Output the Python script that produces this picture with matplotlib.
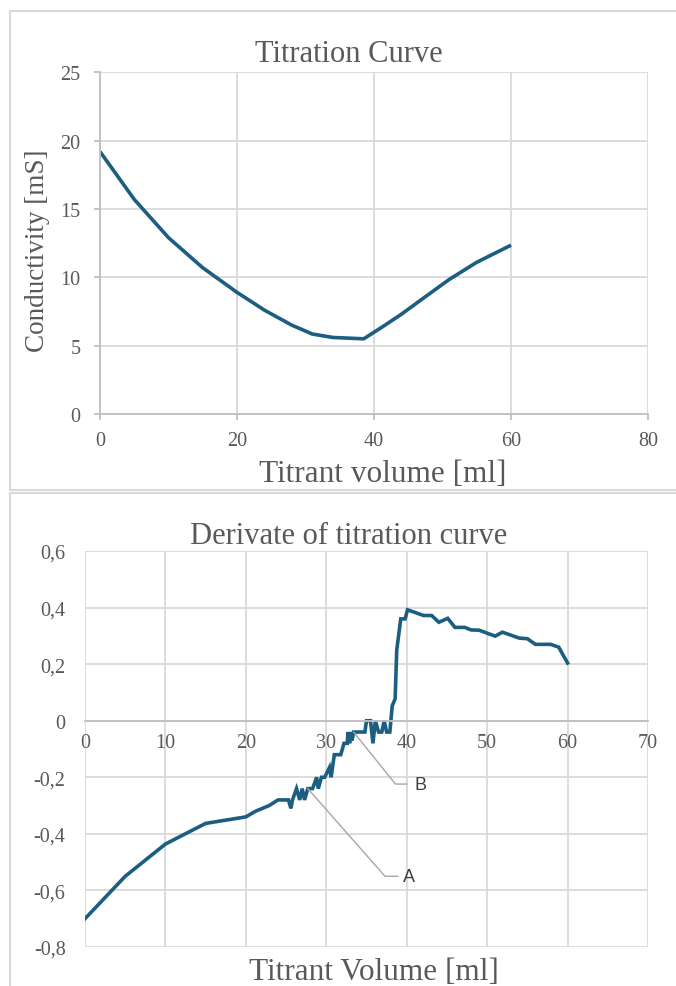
import matplotlib
matplotlib.use("Agg")
import matplotlib.pyplot as plt
from matplotlib.lines import Line2D

# --- data ---
vol_top = [0, 5, 10, 15, 20, 24, 28, 31, 34, 38.5, 41, 44, 47, 51, 55, 60]
cond_top = [19.2, 15.7, 12.9, 10.7, 8.9, 7.6, 6.5, 5.85, 5.6, 5.5, 6.3, 7.3, 8.4, 9.85, 11.1, 12.35]

vol_der = [0, 5, 10, 15, 20, 21.2, 22.9, 24.0, 25.3, 25.6, 25.8, 26.3, 26.7, 27.0, 27.3,
           27.7, 28.3, 28.8, 29.0, 29.4, 29.8, 30.4, 30.6, 31.0, 31.8, 32.2, 32.6, 32.7,
           32.9, 33.0, 33.2, 33.4, 34.8, 35.0, 35.5, 35.8, 36.1, 36.5, 36.9, 37.2, 37.5,
           37.9, 38.2, 38.56, 38.76, 39.26, 39.8, 40.1, 42.1, 43.1, 44.0, 45.1, 46.0, 47.2,
           48.0, 49.0, 51.0, 51.9, 54.0, 55.0, 56.0, 57.9, 58.9, 60.0]
deriv = [-0.70, -0.55, -0.436, -0.363, -0.34, -0.32, -0.30, -0.28, -0.28, -0.31, -0.28,
         -0.24, -0.28, -0.24, -0.28, -0.24, -0.24, -0.20, -0.24, -0.20, -0.20, -0.165,
         -0.20, -0.12, -0.12, -0.08, -0.08, -0.04, -0.08, -0.04, -0.07, -0.04, -0.04,
         0.0, 0.0, -0.08, 0.0, -0.04, -0.04, 0.0, -0.04, -0.04, 0.053, 0.077, 0.25,
         0.36, 0.36, 0.392, 0.372, 0.372, 0.348, 0.362, 0.33, 0.33, 0.321, 0.32, 0.299,
         0.313, 0.292, 0.29, 0.27, 0.27, 0.26, 0.204]

top_xticks = [0, 20, 40, 60, 80]
top_yticks = [0, 5, 10, 15, 20, 25]
der_xticks = [0, 10, 20, 30, 40, 50, 60, 70]
der_yticks = [-0.8, -0.6, -0.4, -0.2, 0, 0.2, 0.4, 0.6]
der_ylabels = ["-0,8", "-0,6", "-0,4", "-0,2", "0", "0,2", "0,4", "0,6"]

# leader lines for the A / B callouts (data coords)
lead_a_x, lead_a_y = [27.7, 37.3, 38.9], [-0.24, -0.55, -0.55]
lead_b_x, lead_b_y = [33.4, 38.6, 40.0], [-0.04, -0.224, -0.224]

LINE = "#1b5e80"
TXT = "#595959"
GRID = "#d9d9d9"
AXIS = "#bfbfbf"
SERIF = ["Liberation Serif", "DejaVu Serif"]

W, H = 676, 987
fig = plt.figure(figsize=(W / 100, H / 100), dpi=100)


def fx(px):
    return px / W


def fy(py):
    return 1 - py / H


# chart-area borders
for (x0, y0, x1, y1) in [(9.5, 12, 680, 491), (9.5, 494, 680, 992)]:
    xs = [fx(x1), fx(x0), fx(x0), fx(x1)]
    ys = [fy(y0), fy(y0), fy(y1), fy(y1)]
    fig.add_artist(Line2D(xs, ys, color=GRID, lw=1.5, transform=fig.transFigure))

# ---------------- top: titration curve ----------------
ax1 = fig.add_axes([fx(100), fy(415), fx(648) - fx(100), fy(73.3) - fy(415)])
ax1.plot(vol_top, cond_top, color=LINE, lw=2.6, solid_capstyle="butt")
ax1.set_xlim(0, 80)
ax1.set_ylim(0, 25)
ax1.set_xticks(top_xticks)
ax1.set_yticks(top_yticks)
ax1.grid(True, color=GRID, lw=1.3)
ax1.set_axisbelow(True)
for s in ["top", "right"]:
    ax1.spines[s].set_visible(False)
for s in ["left", "bottom"]:
    ax1.spines[s].set_color(AXIS)
    ax1.spines[s].set_linewidth(1.3)
ax1.tick_params(colors=AXIS, length=4, width=1.3, labelcolor=TXT, labelsize=14.5)
ax1.tick_params(axis="y", pad=10)
ax1.tick_params(axis="x", pad=8)
for lab in ax1.get_xticklabels() + ax1.get_yticklabels():
    lab.set_family(SERIF)

fig.text(fx(349), fy(55), "Titration Curve", ha="center", va="center",
         fontsize=22, color=TXT, family=SERIF)
fig.text(fx(383), fy(475), "Titrant volume [ml]", ha="center", va="center",
         fontsize=22.5, color=TXT, family=SERIF)
fig.text(fx(38), fy(251), "Conductivity [mS]", ha="center", va="center",
         rotation=90, fontsize=19.5, color=TXT, family=SERIF)

# ---------------- bottom: derivative ----------------
ax2 = fig.add_axes([fx(85), fy(948), fx(648) - fx(85), fy(552) - fy(948)])
ax2.plot(vol_der, deriv, color=LINE, lw=2.6, solid_joinstyle="miter")
ax2.plot(lead_a_x, lead_a_y, color="#a6a6a6", lw=1)
ax2.plot(lead_b_x, lead_b_y, color="#a6a6a6", lw=1)
ax2.text(lead_a_x[-1] + 0.6, lead_a_y[-1], "A", ha="left", va="center",
         fontsize=13, color="#404040", family=["Liberation Sans", "DejaVu Sans"])
ax2.text(lead_b_x[-1] + 1.0, lead_b_y[-1], "B", ha="left", va="center",
         fontsize=13, color="#404040", family=["Liberation Sans", "DejaVu Sans"])
ax2.set_xlim(0, 70)
ax2.set_ylim(-0.8, 0.6)
ax2.set_xticks(der_xticks)
ax2.set_yticks(der_yticks)
ax2.set_yticklabels(der_ylabels)
ax2.grid(True, color=GRID, lw=1.3)
ax2.set_axisbelow(True)
for s in ["top", "right", "left"]:
    ax2.spines[s].set_visible(False)
ax2.spines["bottom"].set_position(("data", 0))
ax2.spines["bottom"].set_color(AXIS)
ax2.spines["bottom"].set_linewidth(1.3)
ax2.tick_params(length=0, labelcolor=TXT, labelsize=14.5)
ax2.tick_params(axis="y", pad=14)
ax2.tick_params(axis="x", pad=9)
for lab in ax2.get_xticklabels() + ax2.get_yticklabels():
    lab.set_family(SERIF)

fig.text(fx(349), fy(537), "Derivate of titration curve", ha="center", va="center",
         fontsize=22, color=TXT, family=SERIF)
fig.text(fx(374), fy(973), "Titrant Volume [ml]", ha="center", va="center",
         fontsize=22.5, color=TXT, family=SERIF)

fig.savefig("out.png", dpi=100)
